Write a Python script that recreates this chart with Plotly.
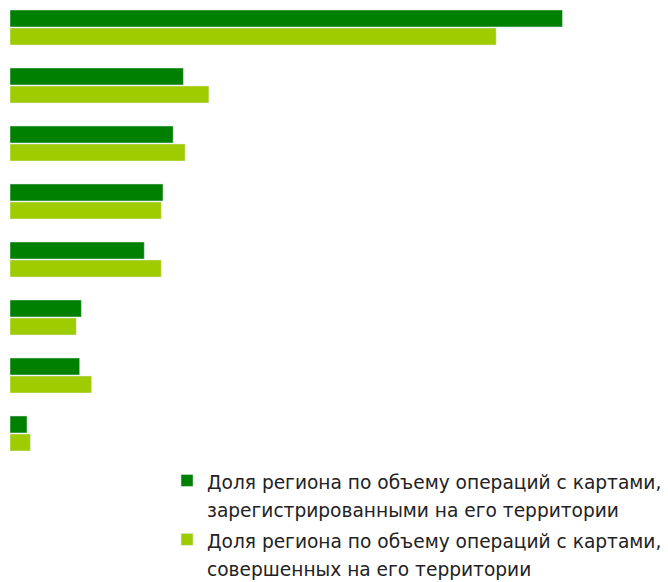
import plotly.graph_objects as go

categories = ["Регион 1", "Регион 2", "Регион 3", "Регион 4",
              "Регион 5", "Регион 6", "Регион 7", "Регион 8"]
registered = [32.5, 10.2, 9.6, 9.0, 7.9, 4.2, 4.1, 1.0]
performed = [28.6, 11.7, 10.3, 8.9, 8.9, 3.9, 4.8, 1.2]
series_lines = [
    ["Доля региона по объему операций с картами,", "зарегистрированными на его территории"],
    ["Доля региона по объему операций с картами,", "совершенных на его территории"],
]
colors = ["#008000", "#9ECC00"]


def legend_name(lines):
    return "<br>".join('<span style="font-size:18.6px">%s</span>' % s for s in lines)


fig = go.Figure()
fig.add_trace(go.Bar(y=categories, x=registered, orientation="h",
                     name=legend_name(series_lines[0]), marker=dict(color=colors[0])))
fig.add_trace(go.Bar(y=categories, x=performed, orientation="h",
                     name=legend_name(series_lines[1]), marker=dict(color=colors[1])))

fig.update_layout(
    width=668, height=582,
    margin=dict(l=2, r=0, t=0, b=118, autoexpand=False),
    paper_bgcolor="white", plot_bgcolor="white",
    barmode="group", bargap=0.379, bargroupgap=0.0556,
    font=dict(family="DejaVu Sans", size=18, color="#222222"),
    xaxis=dict(range=[0, 666 / 17], visible=False),
    yaxis=dict(type="category", categoryorder="array", categoryarray=categories,
               range=[7.664, -0.336], visible=False),
    showlegend=True,
    legend=dict(xref="container", yref="container", x=159 / 668, y=1 - 452 / 582,
                xanchor="left", yanchor="top", valign="top",
                font=dict(family="DejaVu Sans", size=21.5, color="#222222"),
                bgcolor="rgba(0,0,0,0)", tracegroupgap=0),
)

fig.write_html("out.html")
